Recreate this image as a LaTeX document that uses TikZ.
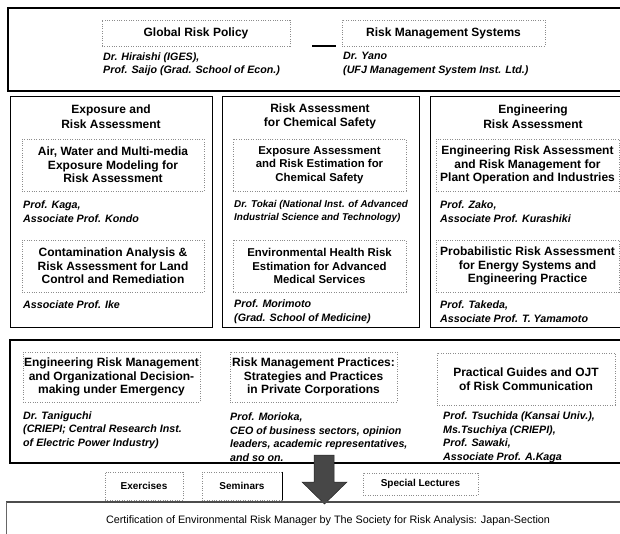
\documentclass[tikz,border=0pt]{standalone}
\usepackage{fontspec}
\setmainfont{Liberation Sans}
\begin{document}
\begin{tikzpicture}[x=1pt,y=-1pt,
  frame/.style={draw=black, line width=0.9pt},
  thickframe/.style={draw=black, line width=1.3pt},
  ibox/.style={draw=black!45, dash pattern=on 1pt off 1.4pt, line width=0.6pt, inner sep=0pt, align=center,
    font=\fontsize{12}{13.5}\selectfont\bfseries},
  iboxm/.style={ibox, font=\fontsize{11.4}{13.5}\selectfont\bfseries},
  hd/.style={inner sep=0pt, align=center, font=\fontsize{12}{14.5}\selectfont\bfseries},
  nm/.style={inner sep=0pt, align=left, anchor=west, font=\fontsize{10.7}{13.5}\selectfont\bfseries\itshape},
  nms/.style={nm, font=\fontsize{9.9}{12.5}\selectfont\bfseries\itshape},
  sbox/.style={draw=black!45, dash pattern=on 1pt off 1.4pt, line width=0.6pt, inner sep=0pt,
    font=\fontsize{10}{12}\selectfont\bfseries},
  conn/.style={draw=black, line width=1.6pt},
  bigarrow/.style={fill=black!72, draw=black!85, line width=0.5pt}
]
\useasboundingbox (0,0) rectangle (620,534);

% ---------- top frame ----------
\draw[thickframe] (620,8) -| (8,91) -- (620,91);
\node[ibox, minimum width=188, minimum height=26] (grp) at (196,33) {Global Risk Policy};
\node[ibox, minimum width=203, minimum height=26] (rms) at (443.5,33) {Risk Management Systems};
\draw[conn, shorten <=22pt, shorten >=6pt] (grp.south east) -- (rms.south west);
\node[nm] (hir) at (103,64) {Dr. Hiraishi (IGES),\\Prof. Saijo (Grad. School of Econ.)};
\node[nm] (yano) at (343,64) {Dr. Yano\\(UFJ Management System Inst. Ltd.)};

% ---------- middle panels ----------
\draw[frame] (10,96) rectangle (212,327);
\draw[frame] (222,96) rectangle (419,327);
\draw[frame] (620,96) -| (430,327) -- (620,327);

\node[hd] (t1) at (111,116.5) {Exposure and\\Risk Assessment};
\node[hd] (t2) at (320,116.5) {Risk Assessment\\for Chemical Safety};
\node[hd] (t3) at (533,116.5) {Engineering\\Risk Assessment};

\node[ibox, minimum width=182, minimum height=52] (a1) at (113,165) {Air, Water and Multi-media\\Exposure Modeling for\\Risk Assessment};
\node[iboxm, minimum width=173, minimum height=52] (b1) at (319.5,165) {Exposure Assessment\\and Risk Estimation for\\Chemical Safety};
\node[ibox, minimum width=183, minimum height=52] (c1) at (527.5,165) {Engineering Risk Assessment\\and Risk Management for\\Plant Operation and Industries};

\node[nm] (an1) at (23,211.5) {Prof. Kaga,\\Associate Prof. Kondo};
\node[nms] (bn1) at (234,211.5) {Dr. Tokai (National Inst. of Advanced\\Industrial Science and Technology)};
\node[nm] (cn1) at (440,211.5) {Prof. Zako,\\Associate Prof. Kurashiki};

\node[ibox, minimum width=182, minimum height=52] (a2) at (113,266) {Contamination Analysis \&\\Risk Assessment for Land\\Control and Remediation};
\node[iboxm, minimum width=173, minimum height=52] (b2) at (319.5,266) {Environmental Health Risk\\Estimation for Advanced\\Medical Services};
\node[ibox, minimum width=183, minimum height=52] (c2) at (527.5,266) {Probabilistic Risk Assessment\\for Energy Systems and\\Engineering Practice};

\node[nm] (an2) at (23,305) {Associate Prof. Ike};
\node[nm] (bn2) at (234,311.5) {Prof. Morimoto\\(Grad. School of Medicine)};
\node[nm] (cn2) at (440,311.5) {Prof. Takeda,\\Associate Prof. T. Yamamoto};

% ---------- lower frame ----------
\draw[thickframe] (620,340) -| (10,463) -- (620,463);
\node[ibox, minimum width=177, minimum height=50] (d1) at (111.5,377) {Engineering Risk Management\\and Organizational Decision-\\making under Emergency};
\node[ibox, minimum width=167, minimum height=50] (d2) at (313.5,377) {Risk Management Practices:\\Strategies and Practices\\in Private Corporations};
\node[ibox, minimum width=178, minimum height=52] (d3) at (526,379) {Practical Guides and OJT\\of Risk Communication};

\node[nm] (dn1) at (23,430) {Dr. Taniguchi\\(CRIEPI; Central Research Inst.\\of Electric Power Industry)};
\node[nm] (dn2) at (230,437) {Prof. Morioka,\\CEO of business sectors, opinion\\leaders, academic representatives,\\and so on.};
\node[nm] (dn3) at (443,437) {Prof. Tsuchida (Kansai Univ.),\\Ms.Tsuchiya (CRIEPI),\\Prof. Sawaki,\\Associate Prof. A.Kaga};

% ---------- exercises row ----------
\node[sbox, minimum width=78, minimum height=28] (ex) at (144,486) {Exercises};
\node[sbox, minimum width=80, minimum height=28] (sem) at (242,486) {Seminars};
\draw[black, line width=0.7pt] (sem.north east) -- (sem.south east);
\node[sbox, minimum width=115, minimum height=22] (spl) at (420.5,484) {Special Lectures};

% big arrow
\fill[bigarrow] (314,455) -- (334,455) -- (334,482) -- (347,482) -- (324.5,504)
  -- (302,482) -- (314,482) -- cycle;

% ---------- certification ----------
\draw[draw=black!70, line width=1.5pt] (620,502) -- (6,502);
\draw[draw=black!60, line width=0.8pt] (6,502) -- (6,534);
\node[inner sep=0pt, font=\fontsize{10.8}{12}\selectfont] (cert) at (328,521)
  {Certification of Environmental Risk Manager by The Society for Risk Analysis: Japan-Section};
\end{tikzpicture}
\end{document}
